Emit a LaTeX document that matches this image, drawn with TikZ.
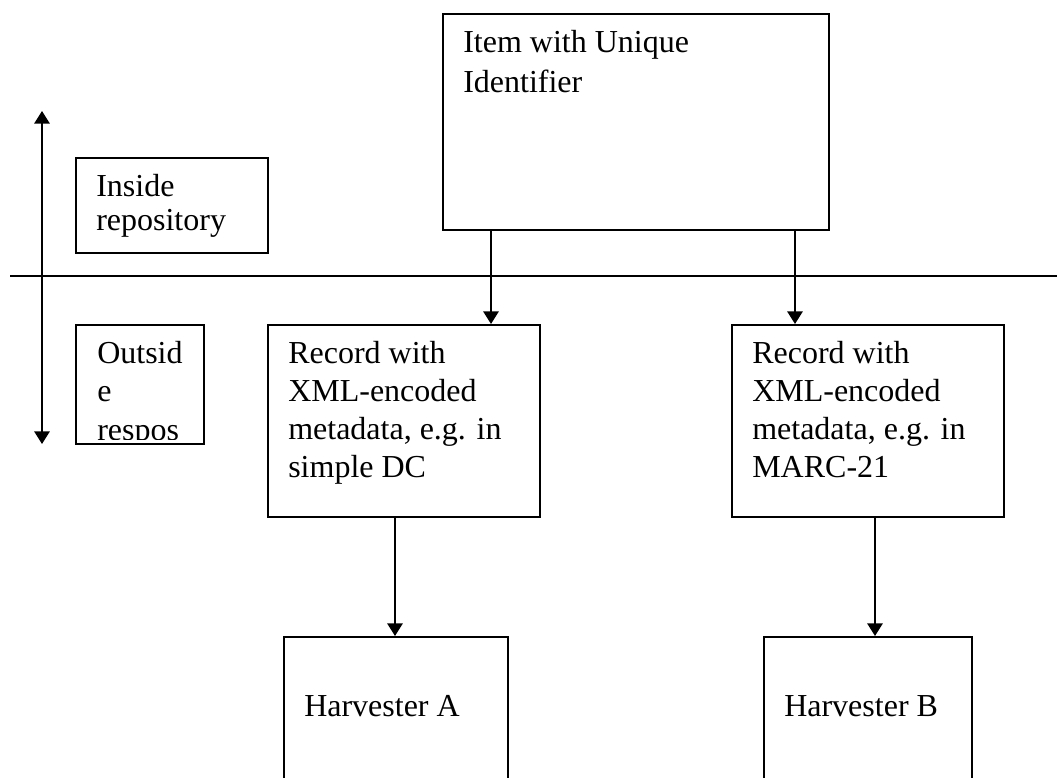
\documentclass[tikz,border=0pt]{standalone}
\usepackage{fontspec}
\setmainfont{Liberation Serif}
\usetikzlibrary{arrows.meta,calc}
\newcommand{\lines}[1]{\begin{tabular}[t]{@{}l@{}}#1\end{tabular}}
\begin{document}
\begin{tikzpicture}[x=0.75pt,y=-0.75pt,
  box/.style={draw, line width=1.5pt, anchor=north west, inner sep=0pt},
  lbl/.style={anchor=base west, inner sep=0pt},
  fs/.style={font=\fontsize{24pt}{#1}\selectfont},
  tip/.style={Triangle[width=11.5pt,length=9.5pt]},
  arr/.style={line width=1.5pt, -{Triangle[width=11.5pt,length=9.5pt]}},
]
\clip (0,0) rectangle (1057,778);
\fill[white] (0,0) rectangle (1057,778);

% boxes
\node[box, minimum width=289.5pt, minimum height=162pt] (item) at (442,13) {};
\node[box, minimum width=144pt, minimum height=71.25pt] (inside) at (75,157) {};
\node[box, minimum width=96pt, minimum height=89.25pt] (outside) at (75,324) {};
\node[box, minimum width=204pt, minimum height=144pt] (recA) at (267,324) {};
\node[box, minimum width=204pt, minimum height=144pt] (recB) at (731,324) {};
\node[box, minimum width=168pt, minimum height=123pt] (harvA) at (283,636) {};
\node[box, minimum width=156pt, minimum height=123pt] (harvB) at (763,636) {};

% divider line and vertical double arrow
\coordinate (hl) at (10,276);
\coordinate (hr) at (1060,276);
\draw[line width=1.5pt] (hl) -- (hr);
\coordinate (vtop) at (42,111);
\coordinate (vbot) at (42,444);
\draw[line width=1.5pt, {Triangle[width=11.5pt,length=9.5pt]}-{Triangle[width=11.5pt,length=9.5pt]}] (vtop) -- (vbot);

% texts
\node[lbl, fs=30pt] (itemtxt) at (463,52) {\lines{Item with Unique\\Identifier}};
\node[lbl, fs=25.5pt] (insidetxt) at (96,196) {\lines{Inside\\repository}};
\begin{scope}
  \clip ($(outside.north west)+(1,1)$) rectangle ($(outside.south east)+(-1,-6)$);
  \node[lbl, fs=28.9pt] (outtxt) at (97,363) {\lines{Outsid\\e\\respos}};
\end{scope}
\node[lbl, fs=28.5pt] (recAtxt) at (288,363) {\lines{Record with\\XML-encoded\\metadata, e.g. in\\simple DC}};
\node[lbl, fs=28.5pt] (recBtxt) at (752,363) {\lines{Record with\\XML-encoded\\metadata, e.g. in\\MARC-21}};
\node[lbl, fs=28.5pt] (harvAtxt) at (304,716) {Harvester A};
\node[lbl, fs=28.5pt] (harvBtxt) at (784,716) {Harvester B};

% connectors
\draw[arr] ($(item.south west)+(49,0)$) coordinate (a1) -- (a1 |- recA.north);
\draw[arr] ($(item.south west)+(353,0)$) coordinate (a2) -- (a2 |- recB.north);
\draw[arr] ($(recA.south west)+(128,0)$) coordinate (a3) -- (a3 |- harvA.north);
\draw[arr] ($(recB.south west)+(144,0)$) coordinate (a4) -- (a4 |- harvB.north);
\end{tikzpicture}
\end{document}
